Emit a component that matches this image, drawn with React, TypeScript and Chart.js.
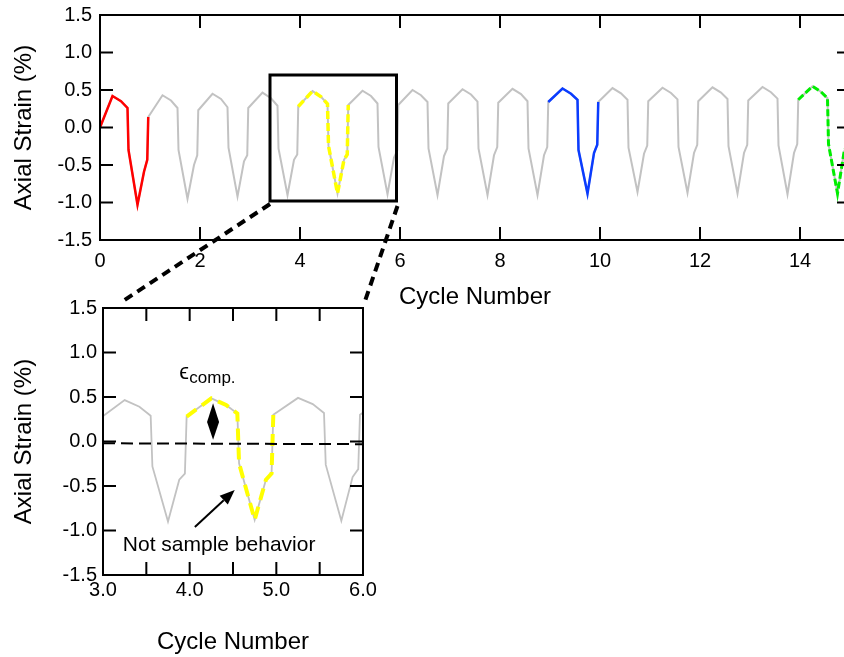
import React, { useEffect, useRef } from "react";
import { Chart, registerables } from "chart.js";

Chart.register(...registerables);

const FONT = "'Liberation Sans', Arial, Helvetica, sans-serif";

// Sampling phases inside one loading cycle (fraction of a cycle)
const samplePhase = [0.25, 0.42, 0.55, 0.57, 0.75, 0.88, 0.945, 0.965];

// Axial strain (%) at each sampling phase, one entry per cycle (cycles 0..14)
const peakStrain = [0.42, 0.43, 0.45, 0.465, 0.485, 0.49, 0.5, 0.51, 0.515, 0.52, 0.525, 0.53, 0.535, 0.54, 0.55];
const midStrain = [0.35, 0.36, 0.38, 0.39, 0.41, 0.42, 0.43, 0.44, 0.445, 0.45, 0.455, 0.46, 0.465, 0.47, 0.475];
const shoulderStrain = [0.26, 0.26, 0.27, 0.29, 0.315, 0.32, 0.34, 0.345, 0.35, 0.37, 0.37, 0.375, 0.38, 0.385, 0.39];
const dropStrain = [-0.3, -0.3, -0.27, -0.28, -0.245, -0.26, -0.28, -0.28, -0.28, -0.3, -0.27, -0.26, -0.25, -0.24, -0.22];
const minStrain = [-1.03, -0.95, -0.92, -0.9, -0.88, -0.89, -0.9, -0.9, -0.9, -0.88, -0.86, -0.87, -0.88, -0.89, -0.88];
const kneeStrain = [-0.59, -0.5, -0.45, -0.43, -0.43, -0.4, -0.38, -0.37, -0.37, -0.34, -0.35, -0.34, -0.34, -0.34, -0.33];
const reboundStrain = [-0.43, -0.37, -0.37, -0.36, -0.36, -0.31, -0.28, -0.26, -0.26, -0.23, -0.24, -0.23, -0.23, -0.22, -0.21];
const riseStrain = [0.14, 0.23, 0.26, 0.28, 0.3, 0.3, 0.32, 0.33, 0.34, 0.34, 0.35, 0.35, 0.36, 0.37, 0.38];

// Starting sample of the test
const startPoint = { x: 0, y: 0 };

// Highlighted cycles
const highlightCycles = [0, 4, 9, 14];
const highlightColors = ["#ff0000", "#ffff00", "#0a3cff", "#00ee00"];
const highlightDashes = [[], [8, 4], [], [7, 3]];
const highlightWidths = [2.5, 3.5, 2.5, 3];

// Axis ticks
const mainXLabels = [0, 2, 4, 6, 8, 10, 12, 14];
const strainLabels = [-1.5, -1.0, -0.5, 0.0, 0.5, 1.0, 1.5];
const insetXLabels = [3, 4, 5, 6];
const insetXMinor = [3.5, 4, 4.5, 5, 5.5];
const strainInner = [-1, -0.5, 0, 0.5, 1];

const GRAY = "#c2c2c2";

// The main canvas sits slightly above the page top so its plot frame starts at y = 15
const MAIN_TOP = -10;

type Pt = { x: number; y: number };

function buildSeries(): Pt[] {
  const cols = [peakStrain, midStrain, shoulderStrain, dropStrain, minStrain, kneeStrain, reboundStrain, riseStrain];
  const pts: Pt[] = [startPoint];
  for (let n = 0; n < peakStrain.length; n++) {
    samplePhase.forEach((p, k) => pts.push({ x: n + p, y: cols[k][n] }));
  }
  return pts;
}

function cyclePoints(all: Pt[], n: number): Pt[] {
  const lo = n - 0.04;
  const hi = n + samplePhase[samplePhase.length - 1] + 0.001;
  return all.filter((p) => p.x >= lo && p.x <= hi);
}

const frameTicks = {
  id: "frameTicks",
  afterDatasetsDraw(chart: any, _args: any, opts: any) {
    const { ctx, chartArea: a, scales } = chart;
    const x = scales.x;
    const y = scales.y;
    const L = 13;
    ctx.save();
    ctx.strokeStyle = "#000";
    ctx.lineWidth = 2;
    ctx.strokeRect(a.left, a.top, a.right - a.left, a.bottom - a.top);
    ctx.beginPath();
    for (const v of opts.xTicks) {
      const px = x.getPixelForValue(v);
      ctx.moveTo(px, a.bottom);
      ctx.lineTo(px, a.bottom - L);
      ctx.moveTo(px, a.top);
      ctx.lineTo(px, a.top + L);
    }
    for (const v of opts.yTicks) {
      const py = y.getPixelForValue(v);
      ctx.moveTo(a.left, py);
      ctx.lineTo(a.left + L, py);
      ctx.moveTo(a.right, py);
      ctx.lineTo(a.right - L, py);
    }
    ctx.stroke();
    ctx.restore();
  },
};

// Zoom window on the main plot and the dashed leaders down to the inset
const zoomWindow = {
  id: "zoomWindow",
  afterDraw(chart: any) {
    const { ctx, scales } = chart;
    const x = scales.x;
    const y = scales.y;
    const l = x.getPixelForValue(3.4);
    const r = x.getPixelForValue(5.93);
    const t = y.getPixelForValue(0.7);
    const b = y.getPixelForValue(-0.98);
    ctx.save();
    ctx.strokeStyle = "#000";
    ctx.lineWidth = 3;
    ctx.strokeRect(l, t, r - l, b - t);
    ctx.lineWidth = 4;
    ctx.setLineDash([9, 6]);
    ctx.beginPath();
    ctx.moveTo(l, b + 3);
    ctx.lineTo(120, 303 - MAIN_TOP);
    ctx.moveTo(r + 1, b + 5);
    ctx.lineTo(364, 304 - MAIN_TOP);
    ctx.stroke();
    ctx.restore();
  },
};

// Annotations inside the inset
const insetNotes = {
  id: "insetNotes",
  afterDatasetsDraw(chart: any) {
    const { ctx, scales } = chart;
    const x = scales.x;
    const y = scales.y;
    ctx.save();
    // zero-strain reference
    ctx.strokeStyle = "#000";
    ctx.lineWidth = 2;
    ctx.setLineDash([12, 6]);
    ctx.beginPath();
    ctx.moveTo(x.getPixelForValue(3), y.getPixelForValue(-0.02));
    ctx.lineTo(x.getPixelForValue(6), y.getPixelForValue(-0.03));
    ctx.stroke();
    ctx.setLineDash([]);

    // double-headed marker for the compressive strain
    const cx = x.getPixelForValue(4.27);
    const top = y.getPixelForValue(0.43);
    const mid = y.getPixelForValue(0.22);
    const bot = y.getPixelForValue(0.02);
    ctx.fillStyle = "#000";
    ctx.beginPath();
    ctx.moveTo(cx, top);
    ctx.lineTo(cx + 6, mid);
    ctx.lineTo(cx, bot);
    ctx.lineTo(cx - 6, mid);
    ctx.closePath();
    ctx.fill();

    // epsilon label
    ctx.textBaseline = "alphabetic";
    ctx.textAlign = "left";
    ctx.font = `22px ${FONT}`;
    const ex = x.getPixelForValue(3.88);
    const ey = y.getPixelForValue(0.7);
    ctx.fillText("\u03F5", ex, ey);
    ctx.font = `17px ${FONT}`;
    ctx.fillText("comp.", ex + 10, ey + 4);

    // arrow to the non-sample segment
    const tx = x.getPixelForValue(4.06);
    const ty = y.getPixelForValue(-0.96);
    const hx = x.getPixelForValue(4.52);
    const hy = y.getPixelForValue(-0.545);
    const ang = Math.atan2(hy - ty, hx - tx);
    const hl = 15;
    const hw = 6;
    const bx = hx - hl * Math.cos(ang);
    const by = hy - hl * Math.sin(ang);
    ctx.lineWidth = 2;
    ctx.beginPath();
    ctx.moveTo(tx, ty);
    ctx.lineTo(bx, by);
    ctx.stroke();
    ctx.beginPath();
    ctx.moveTo(hx, hy);
    ctx.lineTo(bx + hw * Math.sin(ang), by - hw * Math.cos(ang));
    ctx.lineTo(bx - hw * Math.sin(ang), by + hw * Math.cos(ang));
    ctx.closePath();
    ctx.fill();

    ctx.font = `21px ${FONT}`;
    ctx.textAlign = "center";
    ctx.fillText("Not sample behavior", x.getPixelForValue(4.34), y.getPixelForValue(-1.23));
    ctx.restore();
  },
};

function makeOptions(cfg: {
  xMin: number;
  xMax: number;
  xLabels: number[];
  xFmt: (v: number) => string;
  padding: { top: number; right: number };
  xHeight: number;
  yWidth: number;
  xTickPad: number;
  yTickPad: number;
  xTitlePad: number;
  xTicks: number[];
}) {
  return {
    animation: false,
    responsive: false,
    devicePixelRatio: 1,
    events: [],
    layout: { padding: { top: cfg.padding.top, right: cfg.padding.right, left: 0, bottom: 0 } },
    plugins: {
      legend: { display: false },
      tooltip: { enabled: false },
      frameTicks: { xTicks: cfg.xTicks, yTicks: strainInner },
    },
    elements: { point: { radius: 0 }, line: { tension: 0 } },
    scales: {
      x: {
        type: "linear",
        min: cfg.xMin,
        max: cfg.xMax,
        grid: { display: false, drawTicks: false },
        border: { display: false },
        afterBuildTicks: (s: any) => {
          s.ticks = cfg.xLabels.map((v) => ({ value: v }));
        },
        afterFit: (s: any) => {
          s.height = cfg.xHeight;
        },
        ticks: {
          color: "#000",
          font: { family: FONT, size: 20 },
          padding: cfg.xTickPad,
          maxRotation: 0,
          autoSkip: false,
          callback: (v: any) => cfg.xFmt(Number(v)),
        },
        title: {
          display: true,
          text: "Cycle Number",
          color: "#000",
          font: { family: FONT, size: 24 },
          padding: { top: 0, bottom: cfg.xTitlePad },
        },
      },
      y: {
        type: "linear",
        min: -1.5,
        max: 1.5,
        grid: { display: false, drawTicks: false },
        border: { display: false },
        afterBuildTicks: (s: any) => {
          s.ticks = strainLabels.map((v) => ({ value: v }));
        },
        afterFit: (s: any) => {
          s.width = cfg.yWidth;
        },
        ticks: {
          color: "#000",
          font: { family: FONT, size: 20 },
          padding: cfg.yTickPad,
          autoSkip: false,
          callback: (v: any) => Number(v).toFixed(1),
        },
        title: {
          display: true,
          text: "Axial Strain (%)",
          color: "#000",
          font: { family: FONT, size: 24 },
          padding: { top: 10, bottom: 0 },
        },
      },
    },
  };
}

export default function App() {
  const mainRef = useRef<HTMLCanvasElement>(null);
  const insetRef = useRef<HTMLCanvasElement>(null);

  useEffect(() => {
    const series = buildSeries();

    const mainSets: any[] = highlightCycles.map((n, i) => ({
      data: cyclePoints(series, n),
      borderColor: highlightColors[i],
      borderWidth: highlightWidths[i],
      borderDash: highlightDashes[i],
      pointRadius: 0,
      order: 0,
    }));
    mainSets.push({ data: series, borderColor: GRAY, borderWidth: 2, pointRadius: 0, order: 1 });

    const main = new Chart(mainRef.current!, {
      type: "line",
      data: { datasets: mainSets },
      options: makeOptions({
        xMin: 0,
        xMax: 15,
        xLabels: mainXLabels,
        xFmt: (v) => String(v),
        padding: { top: 15 - MAIN_TOP, right: 10 },
        xHeight: 80,
        yWidth: 100,
        xTickPad: 9,
        yTickPad: 8,
        xTitlePad: 8,
        xTicks: mainXLabels.slice(1),
      }) as any,
      plugins: [frameTicks, zoomWindow],
    });

    const inset = new Chart(insetRef.current!, {
      type: "line",
      data: {
        datasets: [
          {
            data: cyclePoints(series, 4),
            borderColor: highlightColors[1],
            borderWidth: 4,
            borderDash: [12, 7],
            pointRadius: 0,
            order: 0,
          },
          { data: series, borderColor: GRAY, borderWidth: 1.8, pointRadius: 0, order: 1 },
        ],
      },
      options: makeOptions({
        xMin: 3,
        xMax: 6,
        xLabels: insetXLabels,
        xFmt: (v) => v.toFixed(1),
        padding: { top: 28, right: 37 },
        xHeight: 82,
        yWidth: 103,
        xTickPad: 3,
        yTickPad: 6,
        xTitlePad: 0,
        xTicks: insetXMinor,
      }) as any,
      plugins: [frameTicks, insetNotes],
    });

    return () => {
      main.destroy();
      inset.destroy();
    };
  }, []);

  return (
    <div
      style={{
        position: "fixed",
        left: 0,
        top: 0,
        width: 844,
        height: 657,
        overflow: "hidden",
        background: "#fff",
      }}
    >
      <canvas
        ref={mainRef}
        width={860}
        height={330}
        style={{ position: "absolute", left: 0, top: MAIN_TOP, width: 860, height: 330 }}
      />
      <canvas
        ref={insetRef}
        width={400}
        height={377}
        style={{ position: "absolute", left: 0, top: 280, width: 400, height: 377 }}
      />
    </div>
  );
}
